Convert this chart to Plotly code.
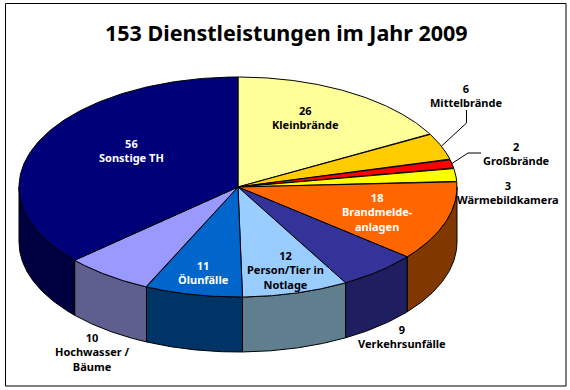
import numpy as np
import plotly.graph_objects as go

TITLE = "153 Dienstleistungen im Jahr 2009"
categories = ["Kleinbrände", "Mittelbrände", "Großbrände", "Wärmebildkamera",
              "Brandmelde-<br>anlagen", "Verkehrsunfälle", "Person/Tier in<br>Notlage",
              "Ölunfälle", "Hochwasser /<br>Bäume", "Sonstige TH"]
values = [26, 6, 2, 3, 18, 9, 12, 11, 10, 56]

top_colors = ["#FFFF99", "#FFCC00", "#FF0000", "#FFFF00", "#FF6600",
              "#333399", "#99CCFF", "#0066CC", "#9999FF", "#000078"]
side_colors = ["#808050", "#806600", "#800000", "#808000", "#803800",
              "#1E1E60", "#5F7F8F", "#003366", "#5F5F8F", "#000040"]
text_colors = ["black", "black", "black", "black", "white",
               "black", "black", "white", "black", "white"]
label_xy = [(305, 117), (466, 95), (516, 153), (508, 192), (377, 212),
            (402, 336), (285, 270), (203, 272), (92, 352), (131, 150)]

W, H = 570, 390
CX, CY, RX, RY, DEPTH = 238, 187, 219, 110, 55


def px(t):
    return CX + RX * np.sin(t)


def py(t):
    return CY - RY * np.cos(t)


fig = go.Figure()
total = sum(values)
edges = np.cumsum([0] + values) / total * 2 * np.pi

# visible side walls (front half only)
for i in range(len(values)):
    a, b = max(edges[i], np.pi / 2), min(edges[i + 1], 3 * np.pi / 2)
    if b <= a:
        continue
    t = np.linspace(a, b, 80)
    xs = np.r_[px(t), px(t[::-1]), px(t[0])]
    ys = np.r_[py(t), py(t[::-1]) + DEPTH, py(t[0])]
    fig.add_trace(go.Scatter(x=xs, y=ys, mode="lines", fill="toself", fillcolor=side_colors[i],
                             line=dict(color="black", width=1), hoverinfo="skip"))

# top faces
for i in range(len(values)):
    t = np.linspace(edges[i], edges[i + 1], 160)
    xs = np.r_[CX, px(t), CX]
    ys = np.r_[CY, py(t), CY]
    fig.add_trace(go.Scatter(x=xs, y=ys, mode="lines", fill="toself", fillcolor=top_colors[i],
                             line=dict(color="black", width=1), hoverinfo="skip"))

# leader lines for the two thin slices
mid = (edges[:-1] + edges[1:]) / 2
fig.add_trace(go.Scatter(x=[px(mid[1]), 466.5, 466.5], y=[py(mid[1]), 123, 110], mode="lines",
                         line=dict(color="black", width=1), hoverinfo="skip"))
fig.add_trace(go.Scatter(x=[px(mid[2]), 468, 481], y=[py(mid[2]), 153, 153], mode="lines",
                         line=dict(color="black", width=1), hoverinfo="skip"))

FONT = "Noto Sans"
annotations = [dict(x=286, y=32, text=f"<b>{TITLE}</b>", showarrow=False, xanchor="center", yanchor="middle",
                    font=dict(family=FONT, size=21.5, color="black"))]
for name, v, (x, y), c in zip(categories, values, label_xy, text_colors):
    annotations.append(dict(x=x, y=y, text=f"<b>{v}<br>{name}</b>", showarrow=False,
                            xanchor="center", yanchor="middle", align="center",
                            font=dict(family=FONT, size=11, color=c)))

fig.update_layout(
    width=W, height=H, autosize=False, showlegend=False,
    margin=dict(l=0, r=0, t=0, b=0),
    paper_bgcolor="white", plot_bgcolor="white",
    xaxis=dict(range=[0, W], visible=False, fixedrange=True),
    yaxis=dict(range=[H, 0], visible=False, fixedrange=True),
    annotations=annotations,
    shapes=[dict(type="rect", x0=5.5, y0=3.5, x1=566, y1=386, line=dict(color="black", width=1), layer="below")],
)
fig.write_html("out.html", config={"displayModeBar": False},
               post_script="document.body.style.margin='0';")
